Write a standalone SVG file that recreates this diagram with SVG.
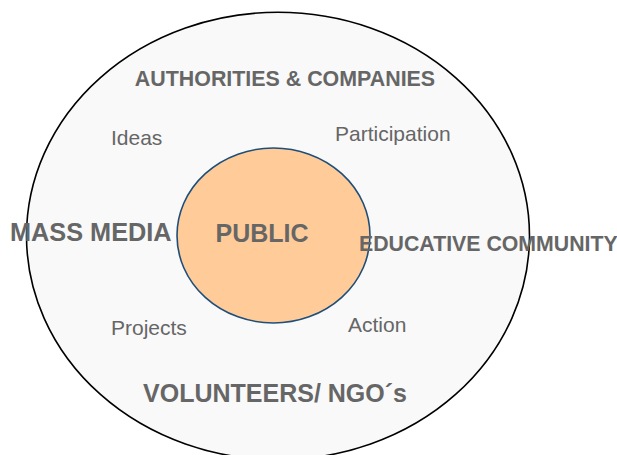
<svg xmlns="http://www.w3.org/2000/svg" width="617" height="455" viewBox="0 0 617 455">
<style>
text{font-family:"Liberation Sans",Arial,sans-serif;fill:#666666}
.b{font-weight:bold}
.s{font-size:21px}
</style>
<rect width="617" height="455" fill="#ffffff"/>
<g id="outer">
<ellipse cx="278" cy="236" rx="251.5" ry="223.7" fill="#f9f9f9" stroke="#000000" stroke-width="1.6"/>
</g>
<g id="public">
<ellipse cx="273.5" cy="235.5" rx="96.5" ry="87.5" fill="#ffcc99" stroke="#1f4e79" stroke-width="1.6"/>
<text class="b" x="262" y="242" font-size="25" text-anchor="middle">PUBLIC</text>
</g>
<g id="outer-labels">
<text class="b" x="285" y="86" font-size="21.4" text-anchor="middle">AUTHORITIES &amp; COMPANIES</text>
<text class="s" x="111" y="145">Ideas</text>
<text class="s" x="335" y="141">Participation</text>
<text class="b" x="10" y="241" font-size="25.3">MASS MEDIA</text>
<text class="b" x="359" y="251" font-size="21.3">EDUCATIVE COMMUNITY</text>
<text class="s" x="111" y="335">Projects</text>
<text class="s" x="348" y="332">Action</text>
<text class="b" x="275" y="402" font-size="25" text-anchor="middle">VOLUNTEERS/ NGO´s</text>
</g>
<g id="connectors"/>
</svg>
